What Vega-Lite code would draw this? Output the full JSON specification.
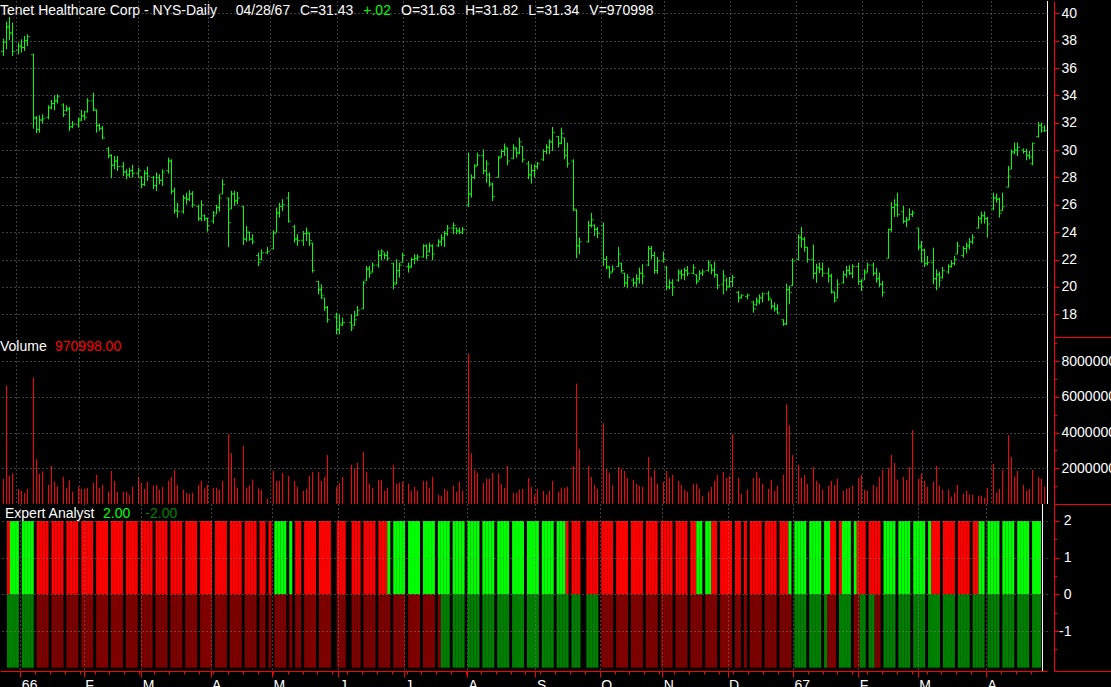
{
"$schema": "https://vega.github.io/schema/vega-lite/v6.json",
"background": "#000000",
"padding": 0,
"spacing": 0,
"bounds": "flush",
"config": {
  "view": {"stroke": null},
  "font": "Liberation Sans",
  "axis": {"labelFont": "Liberation Sans", "labelFontSize": 14, "labelColor": "#ffffff", "domainColor": "#ff0000", "tickColor": "#ff0000", "gridColor": "#808080", "gridDash": [1, 3], "gridWidth": 1, "tickCount": 1000, "labelOverlap": false}
},
"datasets": {"d": [
{"s":0,"o":37.2,"h":38.15,"l":36.88,"c":37.9,"v":1410000,"a":"R","b":"g"},
{"s":1,"o":37.9,"h":39.39,"l":37.37,"c":39.0,"v":6630000,"a":"G","b":"g"},
{"s":2,"o":39.0,"h":39.73,"l":38.03,"c":38.5,"v":1570000,"a":"G","b":"g"},
{"s":3,"o":38.6,"h":39.32,"l":36.88,"c":37.2,"v":1720000,"a":"G","b":"g"},
{"s":5,"o":37.3,"h":37.86,"l":37.0,"c":37.6,"v":850000,"a":"G","b":"g"},
{"s":6,"o":37.6,"h":38.1,"l":37.13,"c":37.5,"v":740000,"a":"G","b":"g"},
{"s":7,"o":37.5,"h":38.34,"l":37.25,"c":38.0,"v":610000,"a":"G","b":"g"},
{"s":8,"o":38.0,"h":38.47,"l":37.61,"c":38.3,"v":850000,"a":"G","b":"g"},
{"s":10,"o":37.0,"h":37.05,"l":31.57,"c":32.4,"v":7070000,"a":"R","b":"r"},
{"s":11,"o":32.3,"h":32.5,"l":31.23,"c":31.5,"v":2520000,"a":"R","b":"r"},
{"s":12,"o":31.5,"h":32.55,"l":31.28,"c":32.2,"v":1690000,"a":"R","b":"r"},
{"s":13,"o":32.2,"h":32.62,"l":31.94,"c":32.3,"v":1830000,"a":"R","b":"r"},
{"s":15,"o":32.4,"h":33.28,"l":32.25,"c":33.1,"v":1070000,"a":"R","b":"r"},
{"s":16,"o":33.1,"h":33.67,"l":32.98,"c":33.4,"v":2130000,"a":"R","b":"r"},
{"s":17,"o":33.4,"h":34.01,"l":32.91,"c":33.6,"v":1260000,"a":"R","b":"r"},
{"s":18,"o":33.6,"h":34.08,"l":33.4,"c":33.9,"v":980000,"a":"R","b":"r"},
{"s":20,"o":33.3,"h":33.42,"l":32.42,"c":32.6,"v":1520000,"a":"R","b":"r"},
{"s":21,"o":32.9,"h":33.28,"l":32.81,"c":33.0,"v":910000,"a":"R","b":"r"},
{"s":22,"o":33.0,"h":33.15,"l":31.4,"c":31.7,"v":1350000,"a":"R","b":"r"},
{"s":23,"o":31.7,"h":32.13,"l":31.6,"c":31.9,"v":690000,"a":"R","b":"r"},
{"s":25,"o":31.9,"h":32.38,"l":31.64,"c":32.2,"v":960000,"a":"R","b":"r"},
{"s":26,"o":32.2,"h":32.94,"l":32.13,"c":32.5,"v":830000,"a":"R","b":"r"},
{"s":27,"o":32.5,"h":32.86,"l":32.18,"c":32.4,"v":850000,"a":"R","b":"r"},
{"s":28,"o":32.8,"h":33.79,"l":32.74,"c":33.6,"v":910000,"a":"R","b":"r"},
{"s":30,"o":33.6,"h":34.2,"l":32.86,"c":33.0,"v":1190000,"a":"R","b":"r"},
{"s":31,"o":32.9,"h":32.98,"l":31.28,"c":31.8,"v":1630000,"a":"R","b":"r"},
{"s":32,"o":31.8,"h":31.94,"l":31.4,"c":31.6,"v":910000,"a":"R","b":"r"},
{"s":33,"o":31.6,"h":31.77,"l":30.79,"c":30.9,"v":1070000,"a":"R","b":"r"},
{"s":35,"o":30.1,"h":30.23,"l":29.4,"c":29.6,"v":690000,"a":"R","b":"r"},
{"s":36,"o":29.6,"h":29.7,"l":27.94,"c":28.9,"v":1850000,"a":"R","b":"r"},
{"s":37,"o":28.9,"h":29.57,"l":28.6,"c":29.2,"v":1300000,"a":"R","b":"r"},
{"s":38,"o":29.2,"h":29.57,"l":28.48,"c":28.8,"v":690000,"a":"R","b":"r"},
{"s":40,"o":28.8,"h":29.14,"l":28.11,"c":28.4,"v":690000,"a":"R","b":"r"},
{"s":41,"o":28.4,"h":28.6,"l":27.87,"c":28.2,"v":690000,"a":"R","b":"r"},
{"s":42,"o":28.2,"h":28.72,"l":27.99,"c":28.5,"v":500000,"a":"R","b":"r"},
{"s":43,"o":28.5,"h":28.92,"l":27.99,"c":28.3,"v":960000,"a":"R","b":"r"},
{"s":45,"o":28.3,"h":28.72,"l":27.99,"c":28.5,"v":1520000,"a":"R","b":"r"},
{"s":46,"o":28.0,"h":28.11,"l":27.21,"c":27.5,"v":1190000,"a":"R","b":"r"},
{"s":47,"o":27.5,"h":28.53,"l":27.38,"c":28.3,"v":850000,"a":"R","b":"r"},
{"s":48,"o":28.3,"h":28.79,"l":27.75,"c":28.1,"v":1240000,"a":"R","b":"r"},
{"s":50,"o":28.0,"h":28.11,"l":27.14,"c":27.4,"v":1040000,"a":"R","b":"r"},
{"s":51,"o":27.4,"h":28.36,"l":27.02,"c":28.0,"v":1070000,"a":"R","b":"r"},
{"s":52,"o":28.0,"h":28.23,"l":27.5,"c":27.8,"v":800000,"a":"R","b":"r"},
{"s":53,"o":27.8,"h":28.6,"l":27.38,"c":28.4,"v":960000,"a":"R","b":"r"},
{"s":55,"o":28.5,"h":29.45,"l":28.28,"c":29.2,"v":1300000,"a":"R","b":"r"},
{"s":56,"o":29.2,"h":29.33,"l":26.77,"c":27.0,"v":1520000,"a":"R","b":"r"},
{"s":57,"o":27.0,"h":27.26,"l":25.36,"c":25.6,"v":1910000,"a":"R","b":"r"},
{"s":58,"o":25.6,"h":26.16,"l":25.07,"c":25.5,"v":1070000,"a":"R","b":"r"},
{"s":60,"o":25.5,"h":26.72,"l":25.36,"c":26.5,"v":800000,"a":"R","b":"r"},
{"s":61,"o":26.5,"h":26.89,"l":26.04,"c":26.4,"v":630000,"a":"R","b":"r"},
{"s":62,"o":26.4,"h":27.06,"l":26.28,"c":26.8,"v":570000,"a":"R","b":"r"},
{"s":63,"o":26.8,"h":27.0,"l":25.8,"c":26.0,"v":630000,"a":"R","b":"r"},
{"s":65,"o":25.9,"h":26.0,"l":24.82,"c":25.0,"v":1070000,"a":"R","b":"r"},
{"s":66,"o":25.0,"h":26.33,"l":24.82,"c":26.0,"v":1300000,"a":"R","b":"r"},
{"s":67,"o":25.2,"h":25.31,"l":24.82,"c":25.0,"v":870000,"a":"R","b":"r"},
{"s":68,"o":25.0,"h":25.07,"l":24.04,"c":24.5,"v":1070000,"a":"R","b":"r"},
{"s":70,"o":24.8,"h":25.55,"l":24.63,"c":25.2,"v":910000,"a":"R","b":"r"},
{"s":71,"o":25.4,"h":26.0,"l":25.31,"c":25.8,"v":910000,"a":"R","b":"r"},
{"s":72,"o":25.8,"h":26.77,"l":25.51,"c":26.5,"v":800000,"a":"R","b":"r"},
{"s":73,"o":26.8,"h":27.87,"l":26.77,"c":27.5,"v":1300000,"a":"R","b":"r"},
{"s":75,"o":26.5,"h":26.53,"l":22.92,"c":24.7,"v":3910000,"a":"R","b":"r"},
{"s":76,"o":25.7,"h":27.02,"l":25.68,"c":26.8,"v":2850000,"a":"R","b":"r"},
{"s":77,"o":26.8,"h":27.02,"l":25.92,"c":26.3,"v":1460000,"a":"R","b":"r"},
{"s":78,"o":26.3,"h":26.94,"l":26.04,"c":26.5,"v":910000,"a":"R","b":"r"},
{"s":80,"o":25.9,"h":25.92,"l":23.07,"c":23.5,"v":3240000,"a":"R","b":"r"},
{"s":81,"o":23.5,"h":24.46,"l":23.31,"c":24.0,"v":910000,"a":"R","b":"r"},
{"s":82,"o":24.0,"h":24.04,"l":23.36,"c":23.5,"v":1040000,"a":"R","b":"r"},
{"s":83,"o":23.5,"h":23.85,"l":23.12,"c":23.3,"v":1370000,"a":"R","b":"r"},
{"s":85,"o":22.3,"h":22.51,"l":21.53,"c":21.8,"v":910000,"a":"R","b":"r"},
{"s":86,"o":22.0,"h":22.75,"l":21.95,"c":22.5,"v":780000,"a":"R","b":"r"},
{"s":88,"o":22.5,"h":22.92,"l":22.39,"c":22.6,"v":300000,"a":"R","b":"r"},
{"s":90,"o":22.8,"h":24.14,"l":22.75,"c":23.9,"v":1850000,"a":"G","b":"r"},
{"s":91,"o":24.0,"h":25.8,"l":23.97,"c":25.4,"v":1300000,"a":"G","b":"r"},
{"s":92,"o":25.4,"h":26.16,"l":25.07,"c":25.9,"v":1300000,"a":"G","b":"r"},
{"s":93,"o":25.9,"h":26.41,"l":25.55,"c":26.0,"v":1740000,"a":"G","b":"r"},
{"s":95,"o":26.5,"h":26.94,"l":24.7,"c":24.8,"v":1570000,"a":"G","b":"r"},
{"s":97,"o":24.4,"h":24.53,"l":23.24,"c":23.5,"v":1300000,"a":"R","b":"r"},
{"s":98,"o":23.5,"h":23.85,"l":23.0,"c":23.4,"v":960000,"a":"R","b":"r"},
{"s":100,"o":23.4,"h":24.09,"l":23.0,"c":23.9,"v":740000,"a":"R","b":"r"},
{"s":101,"o":23.9,"h":24.34,"l":23.36,"c":24.0,"v":850000,"a":"R","b":"r"},
{"s":102,"o":23.9,"h":23.97,"l":23.0,"c":23.4,"v":1570000,"a":"R","b":"r"},
{"s":103,"o":23.2,"h":23.24,"l":21.05,"c":21.2,"v":1800000,"a":"R","b":"r"},
{"s":105,"o":20.4,"h":20.44,"l":19.46,"c":19.8,"v":1800000,"a":"R","b":"r"},
{"s":106,"o":19.8,"h":20.19,"l":19.1,"c":19.4,"v":1300000,"a":"R","b":"r"},
{"s":107,"o":19.2,"h":19.22,"l":18.25,"c":18.5,"v":1520000,"a":"R","b":"r"},
{"s":108,"o":18.5,"h":18.61,"l":17.39,"c":17.6,"v":2740000,"a":"R","b":"r"},
{"s":111,"o":17.8,"h":18.12,"l":16.54,"c":16.9,"v":960000,"a":"R","b":"r"},
{"s":112,"o":16.9,"h":18.0,"l":16.54,"c":17.2,"v":1190000,"a":"R","b":"r"},
{"s":113,"o":17.3,"h":17.76,"l":17.15,"c":17.4,"v":1520000,"a":"R","b":"r"},
{"s":116,"o":17.4,"h":18.0,"l":16.78,"c":17.0,"v":2190000,"a":"R","b":"r"},
{"s":117,"o":17.2,"h":18.25,"l":17.15,"c":17.6,"v":1960000,"a":"R","b":"r"},
{"s":118,"o":17.9,"h":18.61,"l":17.88,"c":18.3,"v":2300000,"a":"R","b":"r"},
{"s":120,"o":18.4,"h":20.44,"l":18.37,"c":20.3,"v":2910000,"a":"R","b":"r"},
{"s":121,"o":20.5,"h":21.53,"l":20.44,"c":21.3,"v":1800000,"a":"R","b":"r"},
{"s":122,"o":21.3,"h":21.53,"l":20.68,"c":21.0,"v":1130000,"a":"R","b":"r"},
{"s":123,"o":21.1,"h":21.78,"l":21.05,"c":21.6,"v":910000,"a":"R","b":"r"},
{"s":125,"o":21.6,"h":22.68,"l":21.41,"c":22.3,"v":1350000,"a":"R","b":"r"},
{"s":126,"o":22.3,"h":22.75,"l":21.95,"c":22.6,"v":1350000,"a":"R","b":"r"},
{"s":127,"o":22.4,"h":22.51,"l":22.02,"c":22.3,"v":740000,"a":"R","b":"r"},
{"s":128,"o":22.3,"h":22.63,"l":21.9,"c":22.1,"v":910000,"a":"G","b":"r"},
{"s":130,"o":21.7,"h":21.78,"l":19.83,"c":20.2,"v":2190000,"a":"G","b":"r"},
{"s":131,"o":20.3,"h":22.02,"l":20.19,"c":21.2,"v":1130000,"a":"G","b":"r"},
{"s":132,"o":21.2,"h":21.78,"l":20.68,"c":21.6,"v":1190000,"a":"G","b":"r"},
{"s":133,"o":21.8,"h":22.51,"l":21.78,"c":22.3,"v":1240000,"a":"G","b":"r"},
{"s":135,"o":21.5,"h":21.78,"l":21.05,"c":21.4,"v":1130000,"a":"G","b":"r"},
{"s":136,"o":21.5,"h":22.14,"l":21.41,"c":22.0,"v":740000,"a":"G","b":"r"},
{"s":137,"o":22.0,"h":22.39,"l":21.66,"c":22.1,"v":960000,"a":"G","b":"r"},
{"s":138,"o":22.1,"h":22.39,"l":21.9,"c":22.2,"v":740000,"a":"G","b":"r"},
{"s":140,"o":22.2,"h":23.12,"l":22.14,"c":23.0,"v":1300000,"a":"G","b":"r"},
{"s":141,"o":23.0,"h":23.12,"l":22.02,"c":22.3,"v":1300000,"a":"G","b":"r"},
{"s":142,"o":22.6,"h":23.24,"l":22.51,"c":23.0,"v":910000,"a":"G","b":"r"},
{"s":143,"o":23.0,"h":23.12,"l":21.95,"c":22.4,"v":1520000,"a":"G","b":"r"},
{"s":145,"o":23.0,"h":23.48,"l":22.92,"c":23.3,"v":520000,"a":"G","b":"r"},
{"s":146,"o":23.3,"h":23.85,"l":23.0,"c":23.6,"v":460000,"a":"G","b":"g"},
{"s":147,"o":23.5,"h":24.09,"l":22.92,"c":23.9,"v":850000,"a":"G","b":"g"},
{"s":148,"o":23.9,"h":24.53,"l":23.73,"c":24.3,"v":740000,"a":"G","b":"g"},
{"s":150,"o":24.3,"h":24.7,"l":23.85,"c":24.5,"v":1020000,"a":"G","b":"g"},
{"s":151,"o":24.3,"h":24.34,"l":23.85,"c":24.1,"v":690000,"a":"G","b":"g"},
{"s":152,"o":24.1,"h":24.34,"l":23.85,"c":24.0,"v":1240000,"a":"G","b":"g"},
{"s":153,"o":24.0,"h":24.38,"l":23.85,"c":24.2,"v":740000,"a":"G","b":"g"},
{"s":155,"o":26.0,"h":29.82,"l":25.85,"c":26.8,"v":8410000,"a":"G","b":"g"},
{"s":156,"o":26.8,"h":28.23,"l":26.53,"c":28.0,"v":2850000,"a":"G","b":"g"},
{"s":157,"o":28.0,"h":28.96,"l":27.87,"c":28.8,"v":1910000,"a":"G","b":"g"},
{"s":158,"o":28.9,"h":29.82,"l":28.84,"c":29.6,"v":1740000,"a":"G","b":"g"},
{"s":160,"o":29.6,"h":30.06,"l":28.23,"c":28.5,"v":1190000,"a":"G","b":"g"},
{"s":161,"o":28.5,"h":29.26,"l":27.62,"c":29.0,"v":1410000,"a":"G","b":"g"},
{"s":162,"o":28.2,"h":28.36,"l":27.31,"c":27.6,"v":1410000,"a":"G","b":"g"},
{"s":163,"o":27.5,"h":27.62,"l":26.28,"c":26.6,"v":1740000,"a":"G","b":"g"},
{"s":165,"o":28.0,"h":29.57,"l":27.99,"c":29.4,"v":1690000,"a":"G","b":"g"},
{"s":166,"o":29.5,"h":30.06,"l":29.45,"c":29.9,"v":1130000,"a":"G","b":"g"},
{"s":167,"o":29.9,"h":30.48,"l":29.57,"c":30.2,"v":910000,"a":"G","b":"g"},
{"s":168,"o":30.1,"h":30.18,"l":28.89,"c":29.2,"v":2130000,"a":"G","b":"g"},
{"s":170,"o":29.4,"h":30.43,"l":29.33,"c":30.2,"v":630000,"a":"G","b":"g"},
{"s":171,"o":30.1,"h":30.18,"l":29.45,"c":29.8,"v":630000,"a":"G","b":"g"},
{"s":172,"o":29.8,"h":30.91,"l":29.7,"c":30.6,"v":800000,"a":"G","b":"g"},
{"s":173,"o":30.3,"h":30.3,"l":29.09,"c":29.3,"v":850000,"a":"G","b":"g"},
{"s":175,"o":29.0,"h":29.21,"l":27.87,"c":28.2,"v":1460000,"a":"G","b":"g"},
{"s":176,"o":28.2,"h":28.96,"l":27.55,"c":28.5,"v":960000,"a":"G","b":"g"},
{"s":177,"o":28.5,"h":28.96,"l":27.99,"c":28.8,"v":520000,"a":"G","b":"g"},
{"s":178,"o":28.8,"h":29.14,"l":28.6,"c":29.0,"v":850000,"a":"G","b":"g"},
{"s":180,"o":29.3,"h":30.06,"l":29.21,"c":29.9,"v":740000,"a":"G","b":"g"},
{"s":181,"o":29.9,"h":30.43,"l":29.7,"c":30.2,"v":520000,"a":"G","b":"g"},
{"s":182,"o":30.2,"h":30.79,"l":29.7,"c":30.6,"v":740000,"a":"G","b":"g"},
{"s":183,"o":30.6,"h":31.69,"l":29.94,"c":31.3,"v":1300000,"a":"G","b":"g"},
{"s":185,"o":31.0,"h":31.04,"l":30.18,"c":30.5,"v":690000,"a":"G","b":"g"},
{"s":186,"o":30.5,"h":31.64,"l":30.43,"c":31.2,"v":910000,"a":"G","b":"g"},
{"s":187,"o":30.9,"h":30.91,"l":29.33,"c":29.6,"v":910000,"a":"G","b":"g"},
{"s":188,"o":30.0,"h":30.55,"l":28.72,"c":29.0,"v":960000,"a":"R","b":"g"},
{"s":190,"o":29.2,"h":29.33,"l":25.55,"c":25.7,"v":2130000,"a":"R","b":"g"},
{"s":191,"o":25.6,"h":25.68,"l":22.1,"c":23.0,"v":6740000,"a":"R","b":"g"},
{"s":192,"o":23.0,"h":23.61,"l":22.39,"c":23.3,"v":3070000,"a":"R","b":"g"},
{"s":195,"o":23.3,"h":24.82,"l":23.24,"c":24.5,"v":2130000,"a":"R","b":"g"},
{"s":196,"o":24.5,"h":25.41,"l":24.34,"c":24.9,"v":1520000,"a":"R","b":"g"},
{"s":197,"o":24.5,"h":24.58,"l":23.73,"c":24.2,"v":1070000,"a":"R","b":"g"},
{"s":198,"o":24.2,"h":24.38,"l":23.56,"c":23.9,"v":850000,"a":"R","b":"g"},
{"s":200,"o":24.5,"h":24.7,"l":21.53,"c":22.0,"v":4520000,"a":"R","b":"r"},
{"s":201,"o":22.0,"h":22.27,"l":21.29,"c":21.5,"v":1960000,"a":"R","b":"r"},
{"s":202,"o":21.4,"h":21.53,"l":20.63,"c":21.0,"v":1740000,"a":"R","b":"r"},
{"s":203,"o":21.1,"h":21.58,"l":21.05,"c":21.3,"v":1070000,"a":"R","b":"r"},
{"s":205,"o":21.5,"h":22.92,"l":21.46,"c":22.4,"v":2070000,"a":"R","b":"r"},
{"s":206,"o":21.7,"h":21.78,"l":21.05,"c":21.2,"v":1960000,"a":"R","b":"r"},
{"s":207,"o":21.0,"h":21.05,"l":20.0,"c":20.3,"v":1850000,"a":"R","b":"r"},
{"s":208,"o":20.3,"h":20.93,"l":19.9,"c":20.7,"v":1460000,"a":"R","b":"r"},
{"s":210,"o":20.5,"h":20.68,"l":20.02,"c":20.3,"v":1350000,"a":"R","b":"r"},
{"s":211,"o":20.3,"h":20.93,"l":19.95,"c":20.6,"v":1130000,"a":"R","b":"r"},
{"s":212,"o":20.6,"h":21.41,"l":20.24,"c":21.0,"v":1020000,"a":"R","b":"r"},
{"s":213,"o":21.0,"h":21.66,"l":20.19,"c":20.8,"v":960000,"a":"R","b":"r"},
{"s":215,"o":21.6,"h":23.0,"l":21.53,"c":22.8,"v":2630000,"a":"R","b":"r"},
{"s":216,"o":22.8,"h":23.0,"l":22.02,"c":22.3,"v":1520000,"a":"R","b":"r"},
{"s":217,"o":22.3,"h":22.58,"l":20.97,"c":21.2,"v":1910000,"a":"R","b":"r"},
{"s":218,"o":21.2,"h":22.19,"l":20.97,"c":21.9,"v":1130000,"a":"R","b":"r"},
{"s":220,"o":21.9,"h":22.58,"l":21.78,"c":22.0,"v":1240000,"a":"R","b":"r"},
{"s":221,"o":21.4,"h":21.53,"l":19.76,"c":20.0,"v":1850000,"a":"R","b":"r"},
{"s":222,"o":20.0,"h":20.56,"l":19.83,"c":20.3,"v":1460000,"a":"R","b":"r"},
{"s":223,"o":20.3,"h":20.56,"l":19.34,"c":20.0,"v":1630000,"a":"R","b":"r"},
{"s":225,"o":20.5,"h":21.29,"l":20.39,"c":21.1,"v":1300000,"a":"R","b":"r"},
{"s":226,"o":21.0,"h":21.29,"l":20.56,"c":20.9,"v":1070000,"a":"R","b":"r"},
{"s":227,"o":20.9,"h":21.41,"l":20.49,"c":21.2,"v":800000,"a":"R","b":"r"},
{"s":228,"o":21.2,"h":21.53,"l":20.8,"c":21.0,"v":690000,"a":"R","b":"r"},
{"s":230,"o":21.0,"h":21.66,"l":20.93,"c":21.4,"v":1130000,"a":"R","b":"r"},
{"s":231,"o":20.9,"h":20.93,"l":20.19,"c":20.4,"v":1130000,"a":"R","b":"r"},
{"s":232,"o":20.5,"h":21.22,"l":20.49,"c":21.0,"v":850000,"a":"G","b":"r"},
{"s":233,"o":21.0,"h":21.29,"l":20.8,"c":21.1,"v":460000,"a":"G","b":"r"},
{"s":235,"o":21.2,"h":21.95,"l":21.12,"c":21.8,"v":690000,"a":"G","b":"r"},
{"s":236,"o":21.6,"h":21.66,"l":20.93,"c":21.2,"v":960000,"a":"G","b":"r"},
{"s":237,"o":21.3,"h":21.85,"l":20.68,"c":20.9,"v":1300000,"a":"R","b":"r"},
{"s":238,"o":20.9,"h":20.93,"l":19.83,"c":20.1,"v":1630000,"a":"R","b":"r"},
{"s":240,"o":20.2,"h":21.22,"l":19.46,"c":20.8,"v":1800000,"a":"R","b":"r"},
{"s":241,"o":20.5,"h":20.68,"l":19.71,"c":20.0,"v":1460000,"a":"R","b":"r"},
{"s":242,"o":20.0,"h":20.73,"l":19.95,"c":20.4,"v":1570000,"a":"R","b":"r"},
{"s":243,"o":20.4,"h":20.88,"l":20.0,"c":20.7,"v":3910000,"a":"R","b":"r"},
{"s":245,"o":19.6,"h":19.71,"l":18.86,"c":19.2,"v":1460000,"a":"R","b":"r"},
{"s":246,"o":19.2,"h":19.46,"l":19.15,"c":19.4,"v":570000,"a":"R","b":"r"},
{"s":248,"o":19.3,"h":19.51,"l":19.1,"c":19.4,"v":800000,"a":"R","b":"r"},
{"s":250,"o":18.9,"h":18.98,"l":18.12,"c":18.4,"v":1460000,"a":"R","b":"r"},
{"s":251,"o":18.7,"h":19.22,"l":18.61,"c":19.0,"v":1800000,"a":"R","b":"r"},
{"s":252,"o":18.9,"h":19.46,"l":18.73,"c":19.2,"v":1460000,"a":"R","b":"r"},
{"s":253,"o":19.2,"h":19.59,"l":18.86,"c":19.5,"v":1130000,"a":"R","b":"r"},
{"s":255,"o":19.5,"h":19.71,"l":18.98,"c":19.2,"v":850000,"a":"R","b":"r"},
{"s":256,"o":19.1,"h":19.1,"l":18.37,"c":18.6,"v":1350000,"a":"R","b":"r"},
{"s":257,"o":18.6,"h":18.86,"l":18.2,"c":18.4,"v":740000,"a":"R","b":"r"},
{"s":258,"o":18.4,"h":18.73,"l":18.0,"c":18.1,"v":1020000,"a":"R","b":"r"},
{"s":260,"o":17.6,"h":17.64,"l":17.15,"c":17.3,"v":1630000,"a":"R","b":"r"},
{"s":261,"o":17.3,"h":20.24,"l":17.22,"c":19.8,"v":5570000,"a":"R","b":"r"},
{"s":262,"o":19.8,"h":20.07,"l":18.73,"c":19.6,"v":4410000,"a":"R","b":"r"},
{"s":263,"o":20.1,"h":22.1,"l":20.07,"c":21.9,"v":2740000,"a":"G","b":"r"},
{"s":265,"o":22.0,"h":23.85,"l":21.95,"c":23.6,"v":2190000,"a":"G","b":"g"},
{"s":266,"o":23.6,"h":24.38,"l":22.87,"c":23.5,"v":1460000,"a":"G","b":"g"},
{"s":267,"o":23.5,"h":23.65,"l":22.58,"c":22.9,"v":1630000,"a":"G","b":"g"},
{"s":268,"o":22.9,"h":22.92,"l":21.78,"c":22.0,"v":1130000,"a":"G","b":"g"},
{"s":270,"o":22.0,"h":23.1,"l":20.6,"c":21.0,"v":2070000,"a":"G","b":"g"},
{"s":271,"o":21.0,"h":21.7,"l":20.3,"c":21.4,"v":1300000,"a":"G","b":"g"},
{"s":272,"o":21.4,"h":21.78,"l":21.0,"c":21.3,"v":1130000,"a":"G","b":"g"},
{"s":273,"o":21.3,"h":21.78,"l":20.73,"c":21.0,"v":800000,"a":"G","b":"g"},
{"s":275,"o":21.0,"h":21.41,"l":20.32,"c":20.8,"v":1020000,"a":"G","b":"g"},
{"s":276,"o":20.8,"h":20.97,"l":19.51,"c":19.7,"v":1300000,"a":"G","b":"r"},
{"s":277,"o":19.6,"h":19.66,"l":18.86,"c":19.0,"v":1070000,"a":"R","b":"r"},
{"s":278,"o":19.2,"h":20.56,"l":19.15,"c":20.2,"v":1410000,"a":"R","b":"r"},
{"s":280,"o":20.3,"h":21.17,"l":20.24,"c":20.9,"v":740000,"a":"R","b":"g"},
{"s":281,"o":20.9,"h":21.53,"l":20.68,"c":21.2,"v":850000,"a":"G","b":"g"},
{"s":282,"o":21.2,"h":21.58,"l":20.88,"c":21.0,"v":910000,"a":"G","b":"g"},
{"s":283,"o":21.0,"h":21.66,"l":20.63,"c":21.5,"v":1020000,"a":"G","b":"g"},
{"s":285,"o":21.5,"h":21.78,"l":20.15,"c":20.4,"v":1460000,"a":"G","b":"r"},
{"s":286,"o":20.4,"h":20.56,"l":19.71,"c":20.0,"v":1630000,"a":"R","b":"r"},
{"s":287,"o":20.5,"h":21.29,"l":20.49,"c":21.0,"v":800000,"a":"R","b":"g"},
{"s":288,"o":21.1,"h":21.78,"l":21.05,"c":21.6,"v":740000,"a":"R","b":"g"},
{"s":290,"o":21.6,"h":21.78,"l":20.8,"c":21.0,"v":1070000,"a":"R","b":"g"},
{"s":291,"o":21.0,"h":21.41,"l":20.32,"c":20.6,"v":960000,"a":"R","b":"g"},
{"s":292,"o":20.6,"h":21.05,"l":20.0,"c":20.2,"v":1520000,"a":"R","b":"r"},
{"s":293,"o":20.2,"h":20.44,"l":19.29,"c":19.6,"v":1910000,"a":"R","b":"r"},
{"s":295,"o":22.1,"h":24.26,"l":22.07,"c":24.2,"v":2020000,"a":"G","b":"g"},
{"s":296,"o":24.2,"h":26.21,"l":24.02,"c":25.8,"v":2740000,"a":"G","b":"g"},
{"s":297,"o":25.8,"h":26.41,"l":25.12,"c":26.0,"v":2300000,"a":"G","b":"g"},
{"s":298,"o":26.0,"h":26.89,"l":25.12,"c":25.3,"v":1350000,"a":"G","b":"g"},
{"s":300,"o":25.5,"h":25.92,"l":24.63,"c":24.8,"v":1520000,"a":"G","b":"g"},
{"s":301,"o":24.8,"h":25.12,"l":24.38,"c":24.9,"v":1350000,"a":"G","b":"g"},
{"s":302,"o":24.9,"h":25.75,"l":24.87,"c":25.3,"v":2070000,"a":"G","b":"g"},
{"s":303,"o":25.3,"h":25.6,"l":25.12,"c":25.4,"v":4130000,"a":"G","b":"g"},
{"s":305,"o":24.3,"h":24.34,"l":22.68,"c":22.9,"v":1410000,"a":"G","b":"g"},
{"s":306,"o":23.0,"h":23.36,"l":21.78,"c":22.7,"v":1690000,"a":"G","b":"g"},
{"s":307,"o":22.7,"h":22.8,"l":21.46,"c":21.7,"v":1300000,"a":"G","b":"g"},
{"s":308,"o":21.7,"h":22.27,"l":21.58,"c":21.8,"v":960000,"a":"G","b":"g"},
{"s":310,"o":21.8,"h":22.87,"l":20.19,"c":20.6,"v":1240000,"a":"G","b":"g"},
{"s":311,"o":20.6,"h":21.29,"l":19.76,"c":20.9,"v":2130000,"a":"R","b":"g"},
{"s":312,"o":20.9,"h":21.12,"l":20.0,"c":20.5,"v":1020000,"a":"R","b":"g"},
{"s":313,"o":20.7,"h":21.46,"l":20.61,"c":21.2,"v":800000,"a":"R","b":"g"},
{"s":315,"o":21.1,"h":21.66,"l":20.97,"c":21.5,"v":800000,"a":"R","b":"g"},
{"s":316,"o":21.5,"h":21.95,"l":21.41,"c":21.7,"v":410000,"a":"R","b":"g"},
{"s":317,"o":21.7,"h":22.27,"l":21.58,"c":22.0,"v":630000,"a":"R","b":"g"},
{"s":318,"o":22.4,"h":23.31,"l":22.39,"c":23.0,"v":1070000,"a":"R","b":"g"},
{"s":320,"o":22.3,"h":23.0,"l":22.14,"c":22.8,"v":570000,"a":"R","b":"g"},
{"s":321,"o":22.8,"h":23.24,"l":22.44,"c":23.0,"v":740000,"a":"R","b":"g"},
{"s":322,"o":23.0,"h":23.56,"l":22.75,"c":23.3,"v":520000,"a":"R","b":"g"},
{"s":323,"o":23.3,"h":23.85,"l":23.12,"c":23.6,"v":520000,"a":"R","b":"g"},
{"s":325,"o":24.3,"h":25.19,"l":24.26,"c":25.0,"v":460000,"a":"R","b":"g"},
{"s":326,"o":25.0,"h":25.51,"l":24.63,"c":25.2,"v":460000,"a":"R","b":"g"},
{"s":327,"o":25.2,"h":25.51,"l":24.63,"c":25.0,"v":350000,"a":"G","b":"g"},
{"s":328,"o":25.0,"h":25.12,"l":23.61,"c":24.6,"v":910000,"a":"G","b":"g"},
{"s":330,"o":25.7,"h":26.89,"l":25.6,"c":26.5,"v":2240000,"a":"G","b":"g"},
{"s":331,"o":26.5,"h":26.82,"l":26.16,"c":26.4,"v":630000,"a":"G","b":"g"},
{"s":332,"o":26.4,"h":26.53,"l":25.07,"c":25.4,"v":850000,"a":"G","b":"g"},
{"s":333,"o":25.6,"h":26.89,"l":25.55,"c":25.9,"v":1910000,"a":"G","b":"g"},
{"s":335,"o":27.3,"h":28.84,"l":27.26,"c":28.1,"v":3850000,"a":"G","b":"g"},
{"s":336,"o":28.6,"h":30.06,"l":28.6,"c":29.8,"v":2630000,"a":"G","b":"g"},
{"s":337,"o":29.9,"h":30.55,"l":29.7,"c":30.0,"v":1520000,"a":"G","b":"g"},
{"s":338,"o":30.0,"h":30.55,"l":29.57,"c":30.2,"v":1850000,"a":"G","b":"g"},
{"s":340,"o":30.0,"h":30.13,"l":29.74,"c":29.9,"v":1070000,"a":"G","b":"g"},
{"s":341,"o":29.9,"h":30.1,"l":29.26,"c":29.6,"v":740000,"a":"G","b":"g"},
{"s":342,"o":29.6,"h":29.94,"l":29.33,"c":29.5,"v":850000,"a":"G","b":"g"},
{"s":343,"o":29.0,"h":30.55,"l":28.89,"c":30.5,"v":1910000,"a":"G","b":"g"},
{"s":345,"o":31.0,"h":32.06,"l":30.91,"c":31.8,"v":1520000,"a":"G","b":"g"},
{"s":346,"o":31.8,"h":32.01,"l":31.28,"c":31.41,"v":1410000,"a":"G","b":"g"},
{"s":347,"o":31.63,"h":31.82,"l":31.34,"c":31.43,"v":970998,"a":"G","b":"g"}
]},
"vconcat": [
{
  "width": 1047, "height": 336,
  "layer": [
    {"data": {"name": "d"},
     "mark": {"type": "rule", "color": "#00ff00", "strokeWidth": 1},
     "encoding": {
       "x": {"field": "s", "type": "quantitative", "scale": {"domain": [-1.1667, 347.8333], "nice": false, "zero": false},
             "axis": {"values": [4,25.33,44.67,68,88.67,111,133,154.33,177.33,199,220,242,264,286,306,329], "tickCount": 1000, "grid": true, "domain": false, "ticks": false, "labels": false, "title": null, "zindex": 1}},
       "y": {"field": "l", "type": "quantitative", "scale": {"domain": [16.342, 40.899], "nice": false, "zero": false},
             "axis": {"orient": "right", "offset": 7, "values": [18,20,22,24,26,28,30,32,34,36,38,40], "format": "d", "tickCount": 1000, "labelOverlap": false, "tickSize": 5, "labelPadding": 2, "grid": true, "title": null, "zindex": 1}},
       "y2": {"field": "h"}
     }},
    {"data": {"name": "d"},
     "mark": {"type": "tick", "orient": "horizontal", "color": "#00ff00", "size": 2, "thickness": 1, "xOffset": -1.5},
     "encoding": {"x": {"field": "s", "type": "quantitative"}, "y": {"field": "o", "type": "quantitative"}}},
    {"data": {"name": "d"},
     "mark": {"type": "tick", "orient": "horizontal", "color": "#00ff00", "size": 2, "thickness": 1, "xOffset": 1.5},
     "encoding": {"x": {"field": "s", "type": "quantitative"}, "y": {"field": "c", "type": "quantitative"}}},
    {"data": {"values": [{}]}, "mark": {"type": "rule", "color": "#ffffff", "strokeWidth": 1}, "encoding": {"x": {"datum": 348}}},
    {"data": {"values": [{}]}, "mark": {"type": "text", "text": "Tenet Healthcare Corp - NYS-Daily", "align": "left", "baseline": "alphabetic", "fontSize": 14, "color": "#ffffff"}, "encoding": {"x": {"datum": -1.1667}, "y": {"datum": 39.876}}},
    {"data": {"values": [{}]}, "mark": {"type": "text", "text": "04/28/67", "align": "left", "baseline": "alphabetic", "fontSize": 14, "color": "#ffffff"}, "encoding": {"x": {"datum": 77.4}, "y": {"datum": 39.876}}},
    {"data": {"values": [{}]}, "mark": {"type": "text", "text": "C=31.43", "align": "left", "baseline": "alphabetic", "fontSize": 14, "color": "#ffffff"}, "encoding": {"x": {"datum": 98.83}, "y": {"datum": 39.876}}},
    {"data": {"values": [{}]}, "mark": {"type": "text", "text": "+.02", "align": "left", "baseline": "alphabetic", "fontSize": 14, "color": "#00ff00"}, "encoding": {"x": {"datum": 119.93}, "y": {"datum": 39.876}}},
    {"data": {"values": [{}]}, "mark": {"type": "text", "text": "O=31.63", "align": "left", "baseline": "alphabetic", "fontSize": 14, "color": "#ffffff"}, "encoding": {"x": {"datum": 132.5}, "y": {"datum": 39.876}}},
    {"data": {"values": [{}]}, "mark": {"type": "text", "text": "H=31.82", "align": "left", "baseline": "alphabetic", "fontSize": 14, "color": "#ffffff"}, "encoding": {"x": {"datum": 153.83}, "y": {"datum": 39.876}}},
    {"data": {"values": [{}]}, "mark": {"type": "text", "text": "L=31.34", "align": "left", "baseline": "alphabetic", "fontSize": 14, "color": "#ffffff"}, "encoding": {"x": {"datum": 174.93}, "y": {"datum": 39.876}}},
    {"data": {"values": [{}]}, "mark": {"type": "text", "text": "V=970998", "align": "left", "baseline": "alphabetic", "fontSize": 14, "color": "#ffffff"}, "encoding": {"x": {"datum": 195.27}, "y": {"datum": 39.876}}}
  ]
},
{
  "width": 1047, "height": 167,
  "layer": [
    {"data": {"name": "d"},
     "mark": {"type": "rule", "color": "#ff0000", "strokeWidth": 1},
     "encoding": {
       "x": {"field": "s", "type": "quantitative", "scale": {"domain": [-1.1667, 347.8333], "nice": false, "zero": false},
             "axis": {"values": [4,25.33,44.67,68,88.67,111,133,154.33,177.33,199,220,242,264,286,306,329], "tickCount": 1000, "grid": true, "domain": false, "ticks": false, "labels": false, "title": null, "zindex": 1}},
       "y": {"field": "v", "type": "quantitative", "scale": {"domain": [0, 9350000], "nice": false, "zero": false},
             "axis": {"orient": "right", "offset": 7, "values": [1000000,2000000,3000000,4000000,5000000,6000000,7000000,8000000,9000000,9350000], "tickCount": 1000, "labelOverlap": false,
                      "labelExpr": "datum.value % 2000000 == 0 ? '' + datum.value : ''",
                      "tickSize": {"condition": [{"test": "datum.value > 9200000", "value": 60}, {"test": "datum.value % 2000000 == 0", "value": 5}], "value": 2.5},
                      "gridOpacity": {"condition": {"test": "datum.value % 2000000 == 0", "value": 1}, "value": 0},
                      "labelPadding": 2, "grid": true, "title": null, "zindex": 1}},
       "y2": {"datum": 0}
     }},
    {"data": {"values": [{}]}, "mark": {"type": "rule", "color": "#ffffff", "strokeWidth": 1}, "encoding": {"x": {"datum": 348}}},
    {"data": {"values": [{}]}, "mark": {"type": "text", "text": "Volume", "align": "left", "baseline": "alphabetic", "fontSize": 14, "color": "#ffffff"}, "encoding": {"x": {"datum": -1.1667}, "y": {"datum": 8566000}}},
    {"data": {"values": [{}]}, "mark": {"type": "text", "text": "970998.00", "align": "left", "baseline": "alphabetic", "fontSize": 14, "color": "#ff0000"}, "encoding": {"x": {"datum": 17.17}, "y": {"datum": 8566000}}}
  ]
},
{
  "width": 1047, "height": 167,
  "layer": [
    {"data": {"name": "d"},
     "mark": {"type": "bar", "width": 3},
     "encoding": {
       "x": {"field": "s", "type": "quantitative", "scale": {"domain": [-1.1667, 347.8333], "nice": false, "zero": false},
             "axis": {"values": [4,25.33,44.67,68,88.67,111,133,154.33,177.33,199,220,242,264,286,306,329,9,14,19,24,29,34,39,44,49,54,59,64,69,74,79,84,89,94,99,104,109,114,119,124,129,134,139,144,149,154,159,164,169,174,179,184,189,194,204,209,214,219,224,229,234,239,244,249,254,259,269,274,279,284,289,294,299,304,309,314,319,324,334,339,344],
                      "tickCount": 1000,
                      "labelExpr": "['66','F','M','A','M','J','J','A','S','O','N','D','67','F','M','A'][indexof([4,25.33,44.67,68,88.67,111,133,154.33,177.33,199,220,242,264,286,306,329], datum.value)] || ''",
                      "tickSize": {"condition": {"test": "indexof([4,25.33,44.67,68,88.67,111,133,154.33,177.33,199,220,242,264,286,306,329], datum.value) >= 0", "value": 6}, "value": 3},
                      "gridOpacity": {"condition": {"test": "indexof([4,25.33,44.67,68,88.67,111,133,154.33,177.33,199,220,242,264,286,306,329], datum.value) >= 0", "value": 1}, "value": 0},
                      "labelAlign": "left", "labelBaseline": "top", "labelOffset": 1, "labelPadding": 1, "labelOverlap": false, "labelFlush": false,
                      "grid": true, "domain": true, "title": null, "zindex": 1}},
       "y": {"datum": 2, "type": "quantitative", "scale": {"domain": [-2.09, 2.463], "nice": false, "zero": false},
             "axis": {"orient": "right", "offset": 7, "values": [-2.09,-1.5,-1,-0.5,0,0.5,1,1.5,2,2.463], "tickCount": 1000, "labelOverlap": false,
                      "labelExpr": "indexof([-1,0,1,2], datum.value) >= 0 ? '' + datum.value : ''",
                      "tickSize": {"condition": [{"test": "datum.value > 2.4 || datum.value < -2", "value": 60}, {"test": "indexof([-1,0,1,2], datum.value) >= 0", "value": 5}], "value": 2.5},
                      "gridOpacity": {"condition": {"test": "indexof([-1,0,1,2], datum.value) >= 0", "value": 1}, "value": 0},
                      "labelAlign": "right", "labelPadding": 12, "grid": true, "title": null, "zindex": 1}},
       "y2": {"datum": 0},
       "color": {"field": "a", "type": "nominal", "scale": {"domain": ["G", "R", "g", "r"], "range": ["#00ff00", "#ff0000", "#008000", "#800000"]}, "legend": null}
     }},
    {"data": {"name": "d"},
     "mark": {"type": "bar", "width": 3},
     "encoding": {
       "x": {"field": "s", "type": "quantitative"},
       "y": {"datum": 0, "type": "quantitative"},
       "y2": {"datum": -2},
       "color": {"field": "b", "type": "nominal", "legend": null}
     }},
    {"data": {"values": [{}]}, "mark": {"type": "rule", "color": "#ffffff", "strokeWidth": 1}, "encoding": {"x": {"datum": 348}}},
    {"data": {"values": [{}]}, "mark": {"type": "text", "text": "Expert Analyst", "align": "left", "baseline": "alphabetic", "fontSize": 14, "color": "#ffffff"}, "encoding": {"x": {"datum": -1.1667}, "y": {"datum": 2.082}}},
    {"data": {"values": [{}]}, "mark": {"type": "text", "text": "2.00", "align": "left", "baseline": "alphabetic", "fontSize": 14, "color": "#00ff00"}, "encoding": {"x": {"datum": 31.83}, "y": {"datum": 2.082}}},
    {"data": {"values": [{}]}, "mark": {"type": "text", "text": "-2.00", "align": "left", "baseline": "alphabetic", "fontSize": 14, "color": "#008000"}, "encoding": {"x": {"datum": 46.07}, "y": {"datum": 2.082}}}
  ]
}
]
}
